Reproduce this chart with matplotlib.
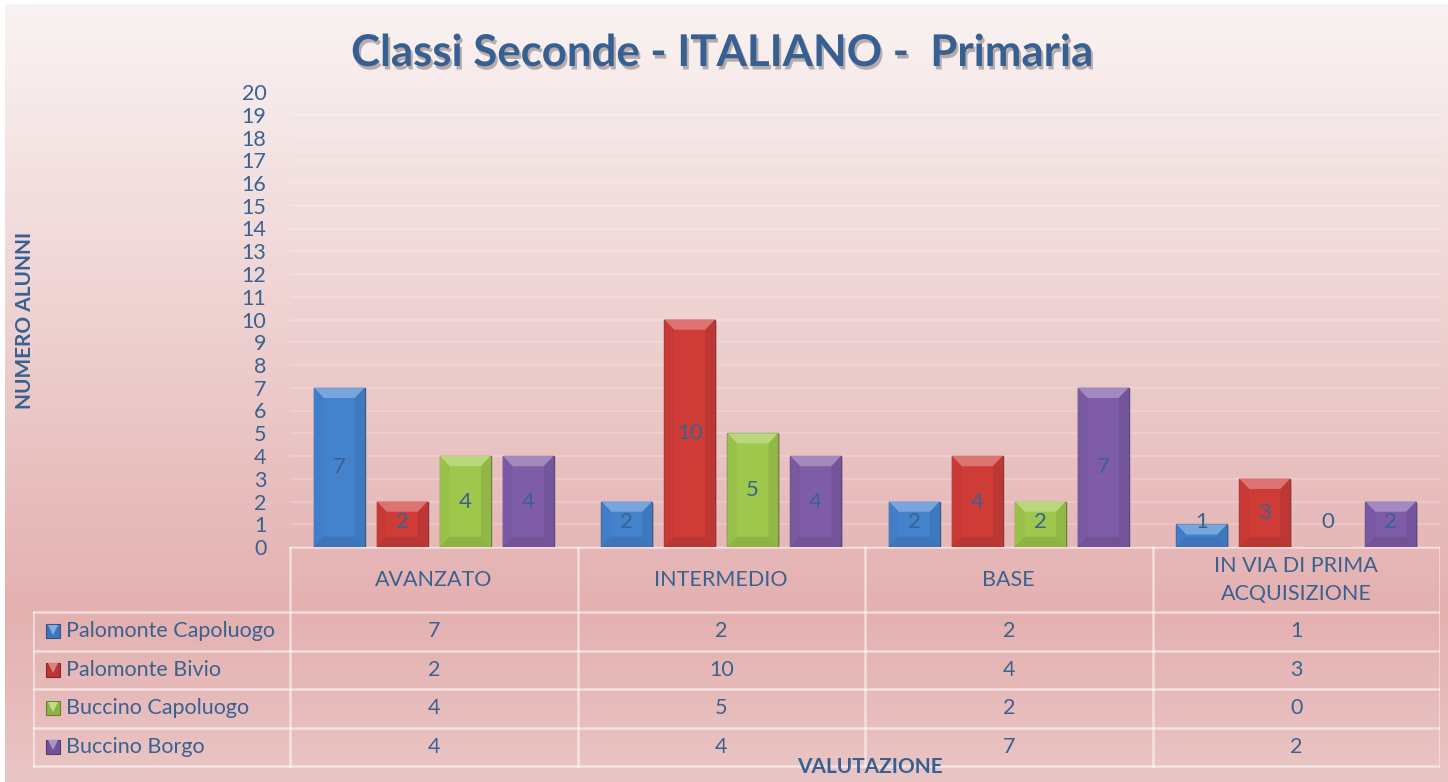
import numpy as np
import matplotlib.pyplot as plt
import matplotlib.patheffects as pe
from matplotlib.patches import Polygon
from matplotlib.colors import to_rgb

plt.rcParams['font.family'] = ['Lato', 'DejaVu Sans']

categories = ['AVANZATO', 'INTERMEDIO', 'BASE', 'IN VIA DI PRIMA\nACQUISIZIONE']
series_names = ['Palomonte Capoluogo', 'Palomonte Bivio', 'Buccino Capoluogo', 'Buccino Borgo']
palomonte_capoluogo = [7, 2, 2, 1]
palomonte_bivio = [2, 10, 4, 3]
buccino_capoluogo = [4, 5, 2, 0]
buccino_borgo = [4, 4, 7, 2]
series_values = [palomonte_capoluogo, palomonte_bivio, buccino_capoluogo, buccino_borgo]
y_ticks = list(range(0, 21))

colors = ['#4382cd', '#cf3c38', '#9ec74b', '#7e5ca8']
text_col = '#3a6291'
fs = 15.5

W, H = 1448, 782
fig = plt.figure(figsize=(W / 100, H / 100), dpi=100)
fig.patch.set_facecolor('white')

# background gradient (top -> bottom)
bg = fig.add_axes([5 / W, 0, 1 - 5 / W, 1 - 4 / H], zorder=-10)
pos = [0.0, 0.35, 0.78, 1.0]
cols = np.array([(250, 243, 243), (240, 214, 214), (228, 176, 176), (234, 197, 197)]) / 255
t = np.linspace(0, 1, 400)
grad = np.stack([np.interp(t, pos, cols[:, k]) for k in range(3)], axis=-1)[:, None, :]
bg.imshow(grad, aspect='auto', extent=[0, 1, 0, 1])
bg.axis('off')


def mix(c, other, f):
    c = np.array(to_rgb(c))
    return tuple(c * (1 - f) + np.array(other) * f)


# main chart
ax = fig.add_axes([290 / W, 1 - 547 / H, 1150 / W, 455 / H])
ax.patch.set_alpha(0)
ax.set_xlim(0, 4)
ax.set_ylim(0, 20)
for s in ax.spines.values():
    s.set_visible(False)
ax.set_yticks(y_ticks)
ax.set_yticklabels([str(v) for v in y_ticks])
ax.tick_params(axis='y', length=0, pad=17, labelsize=fs, labelcolor=text_col)
ax.set_xticks([])
ax.grid(axis='y', color='white', alpha=0.22, lw=1.2)
ax.set_axisbelow(True)

bw, step = 0.177, 0.219
bx, by = 0.034, 0.45
for j, (vals, c) in enumerate(zip(series_values, colors)):
    xs = np.arange(len(categories)) + 0.5 + (j - 1.5) * step
    ax.bar(xs + 0.006, vals, width=bw, bottom=-0.09, color='#7a5050', alpha=0.22,
           linewidth=0, zorder=2)
    ax.bar(xs, vals, width=bw, color=c, edgecolor=mix(c, (0.2, 0.2, 0.25), 0.5),
           linewidth=1, zorder=3)
    for x, v in zip(xs, vals):
        if v > 0:
            x0, x1 = x - bw / 2, x + bw / 2
            d = min(by, v * 0.45)
            ax.add_patch(Polygon([(x0, v), (x1, v), (x1 - bx, v - d), (x0 + bx, v - d)],
                                 closed=True, color=mix(c, (1, 1, 1), 0.28), lw=0, zorder=4))
            ax.add_patch(Polygon([(x1, 0), (x1, v), (x1 - bx, v - d), (x1 - bx, d)],
                                 closed=True, color=mix(c, (0, 0, 0), 0.08), lw=0, zorder=4))
            ax.add_patch(Polygon([(x0, 0), (x0, v), (x0 + bx, v - d), (x0 + bx, d)],
                                 closed=True, color=mix(c, (0, 0, 0), 0.03), lw=0, zorder=4))
            ax.add_patch(Polygon([(x0, 0), (x1, 0), (x1 - bx, d), (x0 + bx, d)],
                                 closed=True, color=mix(c, (0, 0, 0), 0.1), lw=0, zorder=4))
        ax.text(x, max(v / 2, 1.1), str(v), ha='center', va='center',
                fontsize=fs + 0.5, color=text_col, zorder=6)

# data table
L = (290 - 33) / 287.5
tax = fig.add_axes([33 / W, 1 - 768 / H, (1440 - 33) / W, (768 - 547) / H])
tax.patch.set_alpha(0)
tax.set_xlim(-L, 4)
tax.set_ylim(221, 0)
tax.axis('off')
lc = dict(color='white', alpha=0.55, lw=1.8)
row_y = [65, 103.5, 142, 180.5, 219]
tax.plot([0, 4], [0, 0], **lc)
for y in row_y:
    tax.plot([-L, 4], [y, y], **lc)
for i in range(len(categories) + 1):
    tax.plot([i, i], [0, 219], **lc)
tax.plot([-L, -L], [65, 219], **lc)

for i, cat in enumerate(categories):
    tax.text(i + 0.5, 33, cat, ha='center', va='center', fontsize=fs,
             color=text_col, linespacing=1.45)
mx = -L + 20 / 287.5
for j, (name, vals, c) in enumerate(zip(series_names, series_values, colors)):
    yc = (row_y[j] + row_y[j + 1]) / 2
    tax.plot(mx, yc, marker='s', ms=10, color=mix(c, (0, 0, 0), 0.1),
             mec=mix(c, (0, 0, 0), 0.35), mew=0.8)
    tax.plot(mx, yc - 1.5, marker='v', ms=6.5, color=mix(c, (1, 1, 1), 0.35), mew=0)
    tax.text(mx + 13 / 287.5, yc, name, ha='left', va='center', fontsize=fs,
             color=text_col)
    for i, v in enumerate(vals):
        tax.text(i + 0.5, yc, str(v), ha='center', va='center', fontsize=fs,
                 color=text_col)

# titles
fig.text(722 / W, 1 - 53 / H, 'Classi Seconde - ITALIANO -  Primaria', ha='center',
         va='center', fontsize=31.5, fontweight='bold', color='#376092',
         path_effects=[pe.withSimplePatchShadow(offset=(1.5, -2.5), shadow_rgbFace='#6a5a5a',
                                                alpha=0.45)])
fig.text(25 / W, 1 - 320 / H, 'NUMERO ALUNNI', rotation=90, ha='center', va='center',
         fontsize=15, fontweight='bold', color='#376092')
fig.text(870 / W, 1 - 767 / H, 'VALUTAZIONE', ha='center', va='center',
         fontsize=15, fontweight='bold', color='#376092')

fig.savefig('out.png', dpi=100)
